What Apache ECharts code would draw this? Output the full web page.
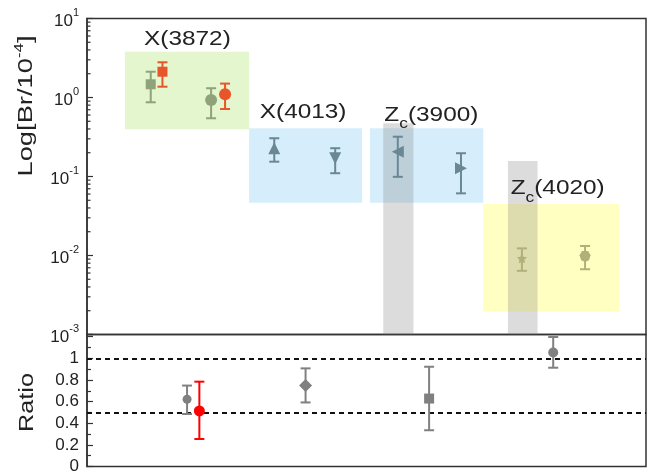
<!DOCTYPE html>
<html><head><meta charset="utf-8">
<script src="https://cdn.jsdelivr.net/npm/echarts@6/dist/echarts.min.js"></script>
<style>html,body{margin:0;padding:0;background:#fff}#c{width:652px;height:475px}</style>
</head><body><div id="c"></div>
<script>
// ---------- data ----------
// top panel (branching ratios, log scale), x = position along the (unlabelled) horizontal axis
const topX   = [1.14, 1.35, 2.22, 2.47, 3.35, 4.44, 5.56, 6.69, 7.78, 8.91];
const topVal = [1.47, 2.12, 0.93, 1.10, 0.228, 0.170, 0.206, 0.127, 0.0092, 0.0097];
const topHi  = [2.12, 2.79, 1.31, 1.50, 0.305, 0.228, 0.319, 0.197, 0.0123, 0.0132];
const topLo  = [0.87, 1.37, 0.546, 0.715, 0.154, 0.110, 0.099, 0.0612, 0.0064, 0.0067];
// bottom panel (ratios)
const botX   = [1.79, 2.01, 3.91, 6.12, 8.34];
const botVal = [0.622, 0.514, 0.748, 0.628, 1.053];
const botHi  = [0.748, 0.784, 0.907, 0.922, 1.197];
const botLo  = [0.485, 0.254, 0.592, 0.335, 0.913];
const refLines = [1, 0.5];
// state boxes
const boxNames = ['X(3872)', 'X(4013)', 'Zc(3900)', 'Zc(4020)'];
const boxX0 = [0.68, 2.90, 5.06, 7.09];
const boxX1 = [2.90, 4.92, 7.09, 9.52];
const boxHi = [3.80, 0.407, 0.407, 0.0449];
const boxLo = [0.395, 0.0466, 0.0466, 0.00195];
const labelX = [1.84, 3.91, 6.16, 8.42];
const labelY = [5.04, 0.600, 0.550, 0.0646];
// grey bands
const bandX0 = [5.30, 7.53];
const bandX1 = [5.84, 8.06];
const bandTop = [0.471, 0.157];
// axis ticks
const logDecades = [-3, -2, -1, 0];
const logMantissas = [2, 3, 4, 5, 6, 7, 8, 9];
const ratioTicks = [0, 0.2, 0.4, 0.6, 0.8, 1];

// ---------- styles ----------
const FONT = 'Liberation Sans';
const TXT = '#222';
const GREEN = '#8fa27a', ORANGE = '#e8552b', SLATE = '#6a8796', OLIVE = '#b0b07a', GREY = '#808080', RED = '#ff0000';
const topStyle = [
  {c: GREEN, s: 'rect', r: 0}, {c: ORANGE, s: 'rect', r: 0},
  {c: GREEN, s: 'circle', r: 0}, {c: ORANGE, s: 'circle', r: 0},
  {c: SLATE, s: 'triangle', r: 0}, {c: SLATE, s: 'triangle', r: 180},
  {c: SLATE, s: 'triangle', r: 90}, {c: SLATE, s: 'triangle', r: -90},
  {c: OLIVE, s: 'path://M0,-10 L2.9,-4 L9.5,-3.1 L4.7,1.5 L5.9,8.1 L0,5 L-5.9,8.1 L-4.7,1.5 L-9.5,-3.1 L-2.9,-4 Z', r: 0},
  {c: OLIVE, s: 'path://M-4,-6 L4,-6 L7,-1 L5,5 L0,7 L-5,5 L-7,-1 Z', r: 0}
];
const botStyle = [
  {c: GREY, s: 'circle'}, {c: RED, s: 'circle'}, {c: GREY, s: 'diamond'},
  {c: GREY, s: 'rect'}, {c: GREY, s: 'circle'}
];
const boxColors = ['#e3f6cd', '#d6eefb', '#d6eefb', '#ffffc2'];
const topSizes = [10, 10, 12, 12, 12, 12, 12, 12, 10, 11];
const botSizes = [9, 11, 13, 10, 10];

const chart = echarts.init(document.getElementById('c'), null, {renderer: 'canvas'});

function errorBars(xs, lo, hi, styles, axisIdx) {
  return {
    type: 'custom', xAxisIndex: axisIdx, yAxisIndex: axisIdx, z: 5, silent: true,
    data: xs.map((x, i) => [x, lo[i], hi[i]]),
    renderItem: function (params, api) {
      const x = api.value(0);
      const a = api.coord([x, api.value(2)]);
      const b = api.coord([x, api.value(1)]);
      const col = styles[params.dataIndex].c;
      const w = 5;
      const st = {stroke: col, lineWidth: 2};
      return {type: 'group', children: [
        {type: 'line', shape: {x1: a[0], y1: a[1], x2: b[0], y2: b[1]}, style: st},
        {type: 'line', shape: {x1: a[0] - w, y1: a[1], x2: a[0] + w, y2: a[1]}, style: st},
        {type: 'line', shape: {x1: b[0] - w, y1: b[1], x2: b[0] + w, y2: b[1]}, style: st}
      ]};
    }
  };
}

const minorTickData = [];
logDecades.forEach(d => logMantissas.forEach(m => minorTickData.push([0, m * Math.pow(10, d)])));

const supRich = {
  b: {fontSize: 17, fontFamily: FONT, color: TXT, lineHeight: 22, verticalAlign: 'bottom'},
  s: {fontSize: 11, fontFamily: FONT, color: TXT, lineHeight: 12, verticalAlign: 'top'}
};

const option = {
  animation: false,
  backgroundColor: '#fff',
  grid: [
    {left: 87, right: 6, top: 18.5, height: 316, show: true, borderColor: '#333', borderWidth: 1.5, backgroundColor: 'transparent'},
    {left: 87, right: 6, top: 334.5, height: 135.5, show: true, borderColor: '#333', borderWidth: 1.5, backgroundColor: 'transparent'}
  ],
  graphic: [
    {
      type: 'text', x: 25, y: 106, rotation: Math.PI / 2, scaleX: 1.3, silent: true,
      style: {
        text: '{n|Log[Br/10}{s|-4}{n|]}', align: 'center', verticalAlign: 'middle',
        rich: {
          n: {fontSize: 21, fontFamily: FONT, fill: TXT, lineHeight: 24, verticalAlign: 'bottom'},
          s: {fontSize: 13, fontFamily: FONT, fill: TXT, lineHeight: 14, verticalAlign: 'top'}
        }
      }
    },
    {
      type: 'text', x: 27.5, y: 402.5, rotation: Math.PI / 2, scaleX: 1.2, silent: true,
      style: {text: 'Ratio', align: 'center', verticalAlign: 'middle', fontSize: 21, fontFamily: FONT, fill: TXT}
    }
  ],
  xAxis: [
    {gridIndex: 0, type: 'value', min: 0, max: 10, show: false},
    {gridIndex: 1, type: 'value', min: 0, max: 10, show: false}
  ],
  yAxis: [
    {
      gridIndex: 0, type: 'log', logBase: 10, min: 0.001, max: 10, splitNumber: 4,
      axisLine: {show: true, lineStyle: {color: '#333', width: 1.5}},
      axisTick: {show: true, inside: true, length: 6, lineStyle: {color: '#333', width: 1.2}},
      splitLine: {show: false},
      axisLabel: {
        margin: 8,
        formatter: function (v) { const e = Math.round(Math.log10(v)); return '{b|10}{s|' + e + '}'; },
        rich: supRich
      }
    },
    {
      gridIndex: 1, type: 'value', min: 0, max: 1.22, interval: 0.2,
      axisLine: {show: true, lineStyle: {color: '#333', width: 1.5}},
      axisTick: {show: true, inside: true, length: 6, lineStyle: {color: '#333', width: 1.2}},
      minorTick: {show: true, splitNumber: 2, length: 4, lineStyle: {color: '#333', width: 1.2}},
      splitLine: {show: false},
      axisLabel: {
        margin: 8, fontSize: 17, fontFamily: FONT, color: TXT,
        formatter: function (v) {
          const r = Math.round(v * 10) / 10;
          return ratioTicks.indexOf(r) >= 0 ? String(r) : '';
        }
      }
    }
  ],
  series: [
    // coloured state boxes
    {
      type: 'custom', xAxisIndex: 0, yAxisIndex: 0, z: 1, silent: true,
      data: boxX0.map((x, i) => [x, boxX1[i], boxLo[i], boxHi[i]]),
      renderItem: function (params, api) {
        const a = api.coord([api.value(0), api.value(3)]);
        const b = api.coord([api.value(1), api.value(2)]);
        return {type: 'rect', shape: {x: a[0], y: a[1], width: b[0] - a[0], height: b[1] - a[1]},
          style: {fill: boxColors[params.dataIndex]}};
      }
    },
    // grey bands
    {
      type: 'custom', xAxisIndex: 0, yAxisIndex: 0, z: 2, silent: true,
      data: bandX0.map((x, i) => [x, bandX1[i], bandTop[i]]),
      renderItem: function (params, api) {
        const a = api.coord([api.value(0), api.value(2)]);
        const b = api.coord([api.value(1), 0.001]);
        return {type: 'rect', shape: {x: a[0], y: a[1], width: b[0] - a[0], height: b[1] - a[1]},
          style: {fill: 'rgba(120,120,120,0.26)'}};
      }
    },
    // state labels
    {
      type: 'custom', xAxisIndex: 0, yAxisIndex: 0, z: 20, silent: true, clip: false,
      data: labelX.map((x, i) => [x, labelY[i]]),
      renderItem: function (params, api) {
        const p = api.coord([api.value(0), api.value(1)]);
        const name = boxNames[params.dataIndex];
        let txt;
        if (name.charAt(1) === 'c') {
          txt = '{m|Z}{c|c}{m|' + name.slice(2) + '}';
        } else {
          txt = '{m|' + name + '}{c| }';
        }
        return {type: 'text', x: p[0], y: p[1], scaleX: 1.16, style: {
          text: txt, align: 'center', verticalAlign: 'middle',
          rich: {
            m: {fontSize: 21, fontFamily: FONT, fill: TXT, lineHeight: 22, verticalAlign: 'top'},
            c: {fontSize: 15, fontFamily: FONT, fill: TXT, lineHeight: 27, verticalAlign: 'bottom'}
          }
        }};
      }
    },
    // log minor ticks
    {
      type: 'custom', xAxisIndex: 0, yAxisIndex: 0, z: 30, silent: true, clip: false,
      data: minorTickData,
      renderItem: function (params, api) {
        const p = api.coord([api.value(0), api.value(1)]);
        return {type: 'line', shape: {x1: p[0], y1: p[1], x2: p[0] + 3.5, y2: p[1]}, style: {stroke: '#333', lineWidth: 1.2}};
      }
    },
    errorBars(topX, topLo, topHi, topStyle, 0),
    {
      type: 'scatter', xAxisIndex: 0, yAxisIndex: 0, z: 6, silent: true,
      data: topX.map((x, i) => ({
        value: [x, topVal[i]], symbol: topStyle[i].s, symbolSize: topSizes[i], symbolRotate: topStyle[i].r,
        itemStyle: {color: topStyle[i].c, opacity: 1}
      }))
    },
    errorBars(botX, botLo, botHi, botStyle, 1),
    {
      type: 'scatter', xAxisIndex: 1, yAxisIndex: 1, z: 6, silent: true,
      data: botX.map((x, i) => ({
        value: [x, botVal[i]], symbol: botStyle[i].s, symbolSize: botSizes[i],
        itemStyle: {color: botStyle[i].c, opacity: 1}
      })),
      markLine: {
        silent: true, symbol: 'none', z: 3,
        label: {show: false},
        lineStyle: {type: [5, 4], color: '#111', width: 2},
        data: refLines.map(v => ({yAxis: v}))
      }
    }
  ]
};
chart.setOption(option);
</script></body></html>
